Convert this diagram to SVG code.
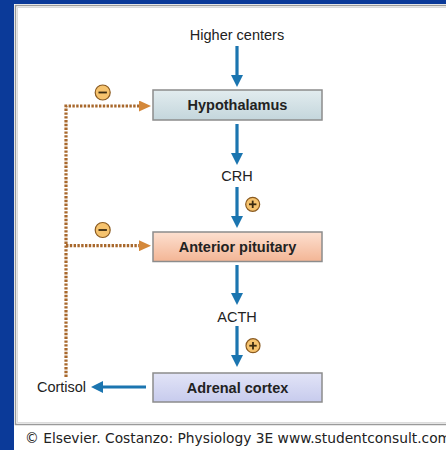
<svg xmlns="http://www.w3.org/2000/svg" width="446" height="450" viewBox="0 0 446 450">
<defs>
<style>
.lbl{font-family:"Liberation Sans",Arial,sans-serif;font-size:14.5px;fill:#222;text-anchor:middle}
.bold{font-weight:bold}
.box{stroke:#8c8c8c;stroke-width:1.5}
.blue{stroke:#1b75b0;stroke-width:3.2;fill:none;marker-end:url(#bh)}
.fb{stroke:#a8682c;stroke-width:3.2;stroke-dasharray:2.4 1.4;fill:none}
.sign{fill:#f6c36e;stroke:#8a5a20;stroke-width:1.2}
.mark{stroke:#3a2a10;stroke-width:1.8}
</style>
<linearGradient id="gH" x1="0" y1="0" x2="0" y2="1"><stop offset="0" stop-color="#e2ecef"/><stop offset="1" stop-color="#c4d6dc"/></linearGradient>
<linearGradient id="gA" x1="0" y1="0" x2="0" y2="1"><stop offset="0" stop-color="#fde0d0"/><stop offset="1" stop-color="#f3b595"/></linearGradient>
<linearGradient id="gC" x1="0" y1="0" x2="0" y2="1"><stop offset="0" stop-color="#e2e4f7"/><stop offset="1" stop-color="#c7cbed"/></linearGradient>
<radialGradient id="gS" cx="0.4" cy="0.35" r="0.7"><stop offset="0" stop-color="#fde3a8"/><stop offset="1" stop-color="#eeaa48"/></radialGradient>
<marker id="bh" viewBox="0 0 12 12" markerUnits="userSpaceOnUse" markerWidth="12" markerHeight="12" refX="4" refY="6" orient="auto">
<path d="M0,0 L12,6 L0,12 Z" fill="#1b75b0"/>
</marker>
<marker id="oh" viewBox="0 0 12 11" markerUnits="userSpaceOnUse" markerWidth="12" markerHeight="11" refX="2" refY="5.5" orient="auto">
<path d="M0,0 L12,5.5 L0,11 Z" fill="#d4883a"/>
</marker>
</defs>
<rect x="0" y="0" width="446" height="450" fill="#0b3a99"/>
<rect x="14" y="4" width="432" height="446" fill="#ffffff"/>
<rect x="15.5" y="5.5" width="440" height="419" fill="#ffffff" stroke="#9a9a9a" stroke-width="1.5"/>
<rect x="17.5" y="7.5" width="440" height="415" fill="none" stroke="#dcdcdc" stroke-width="1"/>
<text x="25" y="443" font-family="'DejaVu Sans',Verdana,sans-serif" font-size="13.5" fill="#222" textLength="426" lengthAdjust="spacingAndGlyphs">© Elsevier. Costanzo: Physiology 3E www.studentconsult.com</text>

<g id="connectors">
<path class="blue" d="M237,46 V79"/>
<path class="blue" d="M237,124 V157"/>
<path class="blue" d="M237,187 V220"/>
<path class="blue" d="M237,265 V297"/>
<path class="blue" d="M237,326 V359"/>
<path class="blue" d="M146,387 H99"/>
<path class="fb" d="M66,377 V106 H141" marker-end="url(#oh)"/>
<path class="fb" d="M66,245.7 H141" marker-end="url(#oh)"/>
</g>

<g id="higher-centers"><text class="lbl" x="237" y="40">Higher centers</text></g>
<g id="hypothalamus">
<rect class="box" x="153" y="90" width="169" height="30" fill="url(#gH)"/>
<text class="lbl bold" x="237.5" y="110">Hypothalamus</text>
</g>
<g id="crh"><text class="lbl" x="237" y="181">CRH</text></g>
<g id="anterior-pituitary">
<rect class="box" x="153" y="232" width="169" height="29.5" fill="url(#gA)"/>
<text class="lbl bold" x="237.5" y="251.5">Anterior pituitary</text>
</g>
<g id="acth"><text class="lbl" x="237" y="322">ACTH</text></g>
<g id="adrenal-cortex">
<rect class="box" x="153" y="373" width="169" height="29" fill="url(#gC)"/>
<text class="lbl bold" x="237.5" y="392.5">Adrenal cortex</text>
</g>
<g id="cortisol"><text class="lbl" x="61.5" y="392">Cortisol</text></g>

<g id="signs">
<circle class="sign" cx="102.7" cy="92.5" r="7.5" fill="url(#gS)"/>
<line class="mark" x1="98.5" y1="92.5" x2="106.9" y2="92.5"/>
<circle class="sign" cx="102.7" cy="230" r="7.5" fill="url(#gS)"/>
<line class="mark" x1="98.5" y1="230" x2="106.9" y2="230"/>
<circle class="sign" cx="252.7" cy="204.3" r="7" fill="url(#gS)"/>
<line class="mark" x1="249" y1="204.3" x2="256.4" y2="204.3"/>
<line class="mark" x1="252.7" y1="200.6" x2="252.7" y2="208"/>
<circle class="sign" cx="253" cy="345.7" r="7" fill="url(#gS)"/>
<line class="mark" x1="249.3" y1="345.7" x2="256.7" y2="345.7"/>
<line class="mark" x1="253" y1="342" x2="253" y2="349.4"/>
</g>
</svg>
